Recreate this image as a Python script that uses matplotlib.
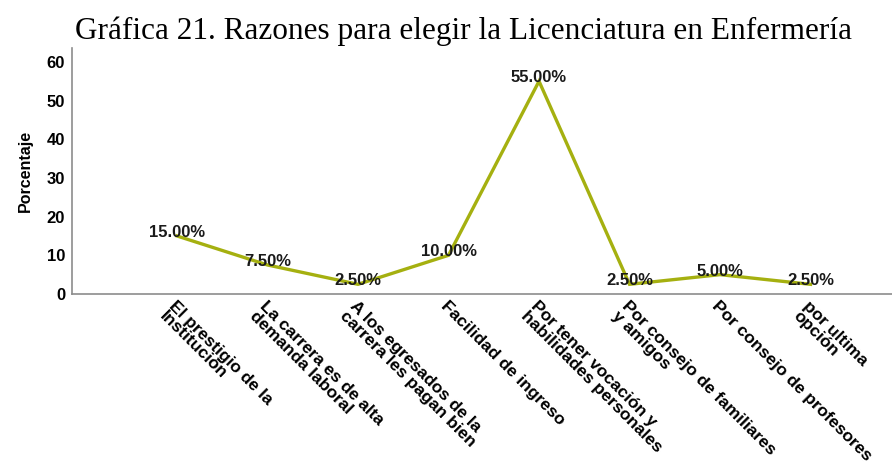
import matplotlib
matplotlib.use("Agg")
import matplotlib.pyplot as plt

title = "Gráfica 21. Razones para elegir la Licenciatura en Enfermería"
categories = [
    "El prestigio de la\nInstitución",
    "La carrera es de alta\ndemanda laboral",
    "A los egresados de la\ncarrera les pagan bien",
    "Facilidad de ingreso",
    "Por tener vocación y\nhabilidades personales",
    "Por consejo de familiares\ny amigos",
    "Por consejo de profesores",
    "por ultima\nopción",
]
values = [15.0, 7.5, 2.5, 10.0, 55.0, 2.5, 5.0, 2.5]
yticks = [0, 10, 20, 30, 40, 50, 60]

fig = plt.figure(figsize=(8.92, 4.70), dpi=100)
ax = fig.add_axes([0.0807, 0.3745, 0.9193, 0.5235])

x = list(range(len(categories)))
ax.plot(x, values, color="#a5b010", lw=2.4, solid_joinstyle="miter", zorder=2)

for xi, v in zip(x, values):
    ax.text(xi, v + 0.9, f"{v:.2f}%", ha="center", va="center",
            fontsize=12, fontweight="bold", family="Liberation Sans",
            color="#1a1a1a", zorder=3)

ax.set_xlim(-1.16, 7.9)
ax.set_ylim(0, 63.6)
ax.set_yticks(yticks)
ax.set_yticklabels([str(t) for t in yticks], fontsize=12, fontweight="bold",
                   family="Liberation Sans")
ax.tick_params(axis="y", length=0, pad=5)
ax.set_xticks(x)
ax.set_xticklabels(categories, rotation=-45, ha="left", va="top",
                   rotation_mode="anchor", fontsize=12.5, fontweight="bold",
                   family="Liberation Sans", linespacing=0.92)
ax.tick_params(axis="x", length=0, pad=3)

for s in ["top", "right"]:
    ax.spines[s].set_visible(False)
for s in ["left", "bottom"]:
    ax.spines[s].set_color("#8c8c8c")
    ax.spines[s].set_linewidth(1.2)

ax.set_ylabel("Porcentaje", fontsize=11.5, fontweight="bold",
              family="Liberation Sans", labelpad=10)

fig.text(0.52, 0.934, title, ha="center", va="center", fontsize=22.5,
         family="Liberation Serif")

fig.savefig("out.png", dpi=100)
